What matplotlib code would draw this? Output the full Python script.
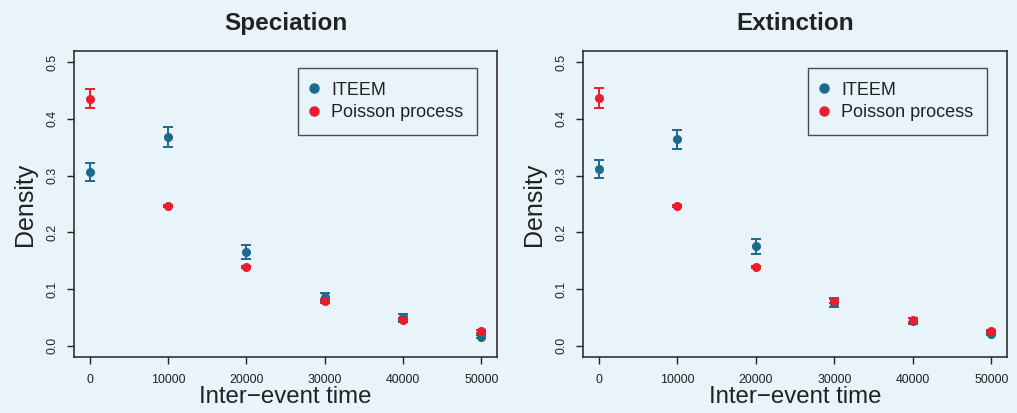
import numpy as np
import matplotlib.pyplot as plt
from matplotlib.lines import Line2D

plt.rcParams['font.family'] = ['Liberation Sans', 'DejaVu Sans']

# inter-event time bins
times = [0, 10000, 20000, 30000, 40000, 50000]

# Speciation
spec_iteem = [0.307, 0.368, 0.165, 0.086, 0.051, 0.016]
spec_iteem_err = [0.016, 0.018, 0.012, 0.007, 0.005, 0.003]
spec_pois = [0.436, 0.246, 0.139, 0.079, 0.045, 0.025]
spec_pois_err = [0.017, 0.002, 0.002, 0.003, 0.003, 0.003]

# Extinction
ext_iteem = [0.311, 0.364, 0.175, 0.076, 0.043, 0.021]
ext_iteem_err = [0.016, 0.017, 0.013, 0.008, 0.005, 0.003]
ext_pois = [0.437, 0.246, 0.139, 0.079, 0.045, 0.025]
ext_pois_err = [0.017, 0.002, 0.002, 0.003, 0.003, 0.003]

bg = '#e8f3fa'
blue = '#1c6a8c'
red = '#ec1c2a'
ink = '#222222'

fig = plt.figure(figsize=(10.17, 4.13), dpi=100, facecolor=bg)
ax1 = fig.add_axes([0.0728, 0.1356, 0.416, 0.741])
ax2 = fig.add_axes([0.5733, 0.1356, 0.4169, 0.741])

panels = [(ax1, 'Speciation', spec_iteem, spec_iteem_err, spec_pois, spec_pois_err),
          (ax2, 'Extinction', ext_iteem, ext_iteem_err, ext_pois, ext_pois_err)]

for ax, title, it, it_err, po, po_err in panels:
    ax.set_facecolor(bg)
    ax.errorbar(times, it, yerr=it_err, fmt='o', color=blue, ms=5.5,
                capsize=3.8, elinewidth=1.4, capthick=1.4)
    ax.errorbar(times, po, yerr=po_err, fmt='o', color=red, ms=5.5,
                capsize=3.8, elinewidth=1.4, capthick=1.4)
    ax.set_xlim(-2000, 52000)
    ax.set_ylim(-0.02, 0.52)
    ax.set_xticks(times)
    ax.set_xticklabels([str(t) for t in times])
    ax.set_yticks([0.0, 0.1, 0.2, 0.3, 0.4, 0.5])
    ax.set_yticklabels(['0.0', '0.1', '0.2', '0.3', '0.4', '0.5'])
    plt.setp(ax.get_yticklabels(), rotation=90, va='center')
    ax.tick_params(direction='out', length=5, width=1, color=ink,
                   labelsize=8.9, labelcolor=ink)
    ax.tick_params(axis='y', pad=6)
    ax.tick_params(axis='x', pad=7)
    for s in ax.spines.values():
        s.set_color(ink)
        s.set_linewidth(1.1)
    ax.set_title(title, fontsize=17.5, fontweight='bold', color=ink, pad=15)
    ax.set_xlabel('Inter\u2212event time', fontsize=17.3, color=ink, labelpad=0)
    ax.set_ylabel('Density', fontsize=18, color=ink, labelpad=7)

    handles = [Line2D([], [], marker='o', ls='none', color=blue, ms=6.5),
               Line2D([], [], marker='o', ls='none', color=red, ms=6.5)]
    leg = ax.legend(handles, ['ITEEM', 'Poisson process'],
                    loc='upper right', bbox_to_anchor=(0.9527, 0.944),
                    borderaxespad=0, fontsize=13, frameon=True, fancybox=False,
                    handlelength=0.3, handletextpad=0.8, labelspacing=0.3,
                    borderpad=0.75)
    leg.get_frame().set_edgecolor(ink)
    leg.get_frame().set_facecolor(bg)
    leg.get_frame().set_linewidth(1.0)
    for txt in leg.get_texts():
        txt.set_color(ink)

fig.savefig('out.png', dpi=100, facecolor=bg)
